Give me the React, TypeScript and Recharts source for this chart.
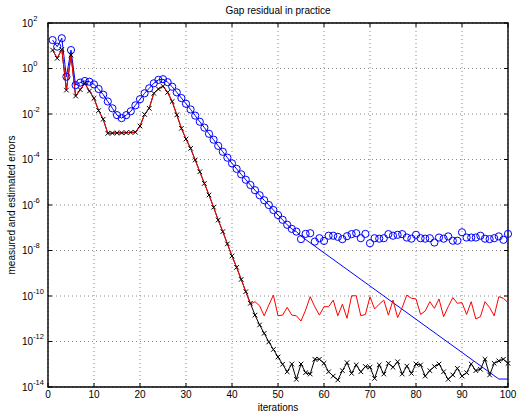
import { LineChart, Line, XAxis, YAxis, CartesianGrid, ReferenceArea } from 'recharts';

// log10 of each series, iterations 1..100
const blueCircles = [
  1.25, 0.96, 1.33, -0.36, 0.81, -0.73, -0.62, -0.55, -0.58, -0.7,
  -0.9, -1.15, -1.45, -1.75, -2.05, -2.18, -2.05, -1.88, -1.62, -1.35,
  -1.09, -0.87, -0.65, -0.5, -0.47, -0.6, -0.8, -1.05, -1.3, -1.55,
  -1.8, -2.07, -2.34, -2.6, -2.87, -3.13, -3.4, -3.66, -3.92, -4.17,
  -4.41, -4.65, -4.89, -5.12, -5.35, -5.57, -5.79, -6.0, -6.22, -6.44,
  -6.65, -6.87, -7.05, -7.17, -7.5, -7.27, -7.24, -7.61, -7.46, -7.58,
  -7.35, -7.35, -7.4, -7.5, -7.37, -7.28, -7.24, -7.46, -7.27, -7.68,
  -7.46, -7.48, -7.46, -7.28, -7.35, -7.31, -7.28, -7.43, -7.48, -7.31,
  -7.46, -7.48, -7.46, -7.65, -7.43, -7.48, -7.38, -7.57, -7.57, -7.2,
  -7.43, -7.43, -7.43, -7.35, -7.48, -7.5, -7.46, -7.38, -7.53, -7.27,
];

// blue line follows the circles up to iteration 54, then runs straight down
const blueLineTailIters = [55, 98, 100];
const blueLineTail = [-7.37, -13.65, -13.65];

const blackCrosses = [
  0.81, 0.45, 0.84, -0.95, 0.59, -1.21, -0.93, -0.65, -0.99, -1.31,
  -1.85, -2.23, -2.85, -2.84, -2.83, -2.83, -2.82, -2.81, -2.8, -2.53,
  -2.02, -1.75, -1.09, -0.9, -0.78, -1.05, -1.45, -2.04, -2.63, -3.1,
  -3.51, -4.02, -4.54, -5.05, -5.56, -6.1, -6.66, -7.17, -7.71, -8.24,
  -8.74, -9.27, -9.81, -10.32, -10.84, -11.27, -11.64, -12.02, -12.35, -12.68,
  -13.0, -13.33, -12.99, -13.66, -12.99, -13.37, -13.43, -12.78, -12.78, -12.96,
  -13.33, -13.52, -13.69, -13.28, -12.93, -13.4, -13.03, -13.33, -13.1, -13.13,
  -13.62, -13.03, -13.43, -12.96, -13.13, -12.89, -13.43, -13.08, -13.4, -12.99,
  -13.03, -13.52, -13.28, -13.1, -12.99, -13.33, -13.66, -13.47, -13.18, -13.52,
  -13.37, -12.99, -13.28, -13.22, -12.78, -13.47, -12.96, -12.85, -12.78, -12.96,
];

// red matches the black curve up to iteration 43, then stalls
const redTail = [
  -10.36, -10.25, -10.43, -10.87, -10.4, -9.96, -10.87, -10.84, -10.5, -10.84,
  -10.87, -11.1, -10.62, -10.03, -10.47, -10.84, -10.47, -10.47, -10.18, -10.87,
  -10.36, -10.98, -9.99, -9.99, -10.87, -10.81, -10.03, -10.57, -10.36, -10.18,
  -10.84, -10.18, -10.95, -10.51, -9.96, -10.1, -10.13, -10.81, -10.66, -10.25,
  -10.54, -10.13, -10.91, -10.47, -10.07, -10.32, -10.29, -10.81, -10.25, -11.01,
  -10.91, -10.25, -10.51, -10.87, -10.03, -10.1, -10.29,
];
const red = [...blackCrosses.slice(0, 43), ...redTail];

const xTicks = [0, 10, 20, 30, 40, 50, 60, 70, 80, 90, 100];
const yTicks = [1e-14, 1e-12, 1e-10, 1e-8, 1e-6, 1e-4, 1e-2, 1, 1e2];

const data = blueCircles.map((c, k) => {
  const it = k + 1;
  const tailIdx = blueLineTailIters.indexOf(it);
  let line: number | null = null;
  if (it <= 54) line = 10 ** c;
  else if (tailIdx >= 0) line = 10 ** blueLineTail[tailIdx];
  return {
    it,
    circ: 10 ** c,
    line,
    black: 10 ** blackCrosses[k],
    red: 10 ** red[k],
  };
});

const W = 517;
const H = 414;
const MARGIN = { top: 23, right: 9, bottom: 7, left: 8 };
const Y_AXIS_W = 40;
const X_AXIS_H = 20;
const LEFT = MARGIN.left + Y_AXIS_W;
const RIGHT = W - MARGIN.right;
const TOP = MARGIN.top;
const BOTTOM = H - MARGIN.bottom - X_AXIS_H;
const FONT = '"Liberation Sans", Arial, Helvetica, sans-serif';

function YTick(props: any) {
  const { y, payload } = props;
  const exp = Math.round(Math.log10(payload.value));
  return (
    <g>
      <line x1={LEFT} x2={LEFT + 4} y1={y} y2={y} stroke="#000" />
      <line x1={RIGHT} x2={RIGHT - 4} y1={y} y2={y} stroke="#000" />
      <text x={22} y={y + 3.5} fontSize={10} fontFamily={FONT} fill="#000">
        10<tspan dy={-6} fontSize={7.5}>{exp}</tspan>
      </text>
    </g>
  );
}

function XTick(props: any) {
  const { x, payload } = props;
  return (
    <g>
      <line x1={x} x2={x} y1={BOTTOM} y2={BOTTOM - 4} stroke="#000" />
      <line x1={x} x2={x} y1={TOP} y2={TOP + 4} stroke="#000" />
      <text x={x} y={BOTTOM + 11} fontSize={10} fontFamily={FONT} textAnchor="middle" fill="#000">
        {payload.value}
      </text>
    </g>
  );
}

const circleDot = (p: any) => (
  <circle key={`c${p.index}`} cx={p.cx} cy={p.cy} r={3.6} fill="none" stroke="#0000ff" strokeWidth={1} />
);

const crossDot = (p: any) => (
  <g key={`x${p.index}`} stroke="#000" strokeWidth={1}>
    <line x1={p.cx - 2.3} y1={p.cy - 2.3} x2={p.cx + 2.3} y2={p.cy + 2.3} />
    <line x1={p.cx - 2.3} y1={p.cy + 2.3} x2={p.cx + 2.3} y2={p.cy - 2.3} />
  </g>
);

export default function App() {
  return (
    <div style={{ position: 'absolute', left: 0, top: 0, width: W, height: H, background: '#fff' }}>
      <LineChart width={W} height={H} data={data} margin={MARGIN}>
        <CartesianGrid stroke="#888" strokeDasharray="1 3" />
        <XAxis
          dataKey="it"
          type="number"
          domain={[0, 100]}
          ticks={xTicks}
          height={X_AXIS_H}
          axisLine={false}
          tickLine={false}
          tick={XTick}
          interval={0}
        />
        <YAxis
          type="number"
          scale="log"
          domain={[1e-14, 1e2]}
          ticks={yTicks}
          width={Y_AXIS_W}
          axisLine={false}
          tickLine={false}
          tick={YTick}
          interval={0}
        />
        <Line dataKey="circ" stroke="none" dot={circleDot} activeDot={false} isAnimationActive={false} />
        <Line dataKey="line" stroke="#0000ff" strokeWidth={1} dot={false} activeDot={false} connectNulls isAnimationActive={false} />
        <Line dataKey="black" stroke="#000" strokeWidth={1} dot={false} activeDot={false} isAnimationActive={false} />
        <Line dataKey="red" stroke="#ff0000" strokeWidth={1} dot={false} activeDot={false} isAnimationActive={false} />
        <Line dataKey="black" stroke="none" dot={crossDot} activeDot={false} isAnimationActive={false} />
        <ReferenceArea x1={0} x2={100} y1={1e-14} y2={1e2} fill="none" stroke="#000" strokeWidth={1.4} />
      </LineChart>
      <svg width={W} height={H} style={{ position: 'absolute', left: 0, top: 0, pointerEvents: 'none' }}>
        <text x={(LEFT + RIGHT) / 2} y={14} fontSize={10} fontFamily={FONT} textAnchor="middle" fill="#000">
          Gap residual in practice
        </text>
        <text x={(LEFT + RIGHT) / 2} y={411} fontSize={10} fontFamily={FONT} textAnchor="middle" fill="#000">
          iterations
        </text>
        <text
          transform={`translate(15, ${(TOP + BOTTOM) / 2}) rotate(-90)`}
          fontSize={10}
          fontFamily={FONT}
          textAnchor="middle"
          fill="#000"
        >
          measured and estimated errors
        </text>
      </svg>
    </div>
  );
}
